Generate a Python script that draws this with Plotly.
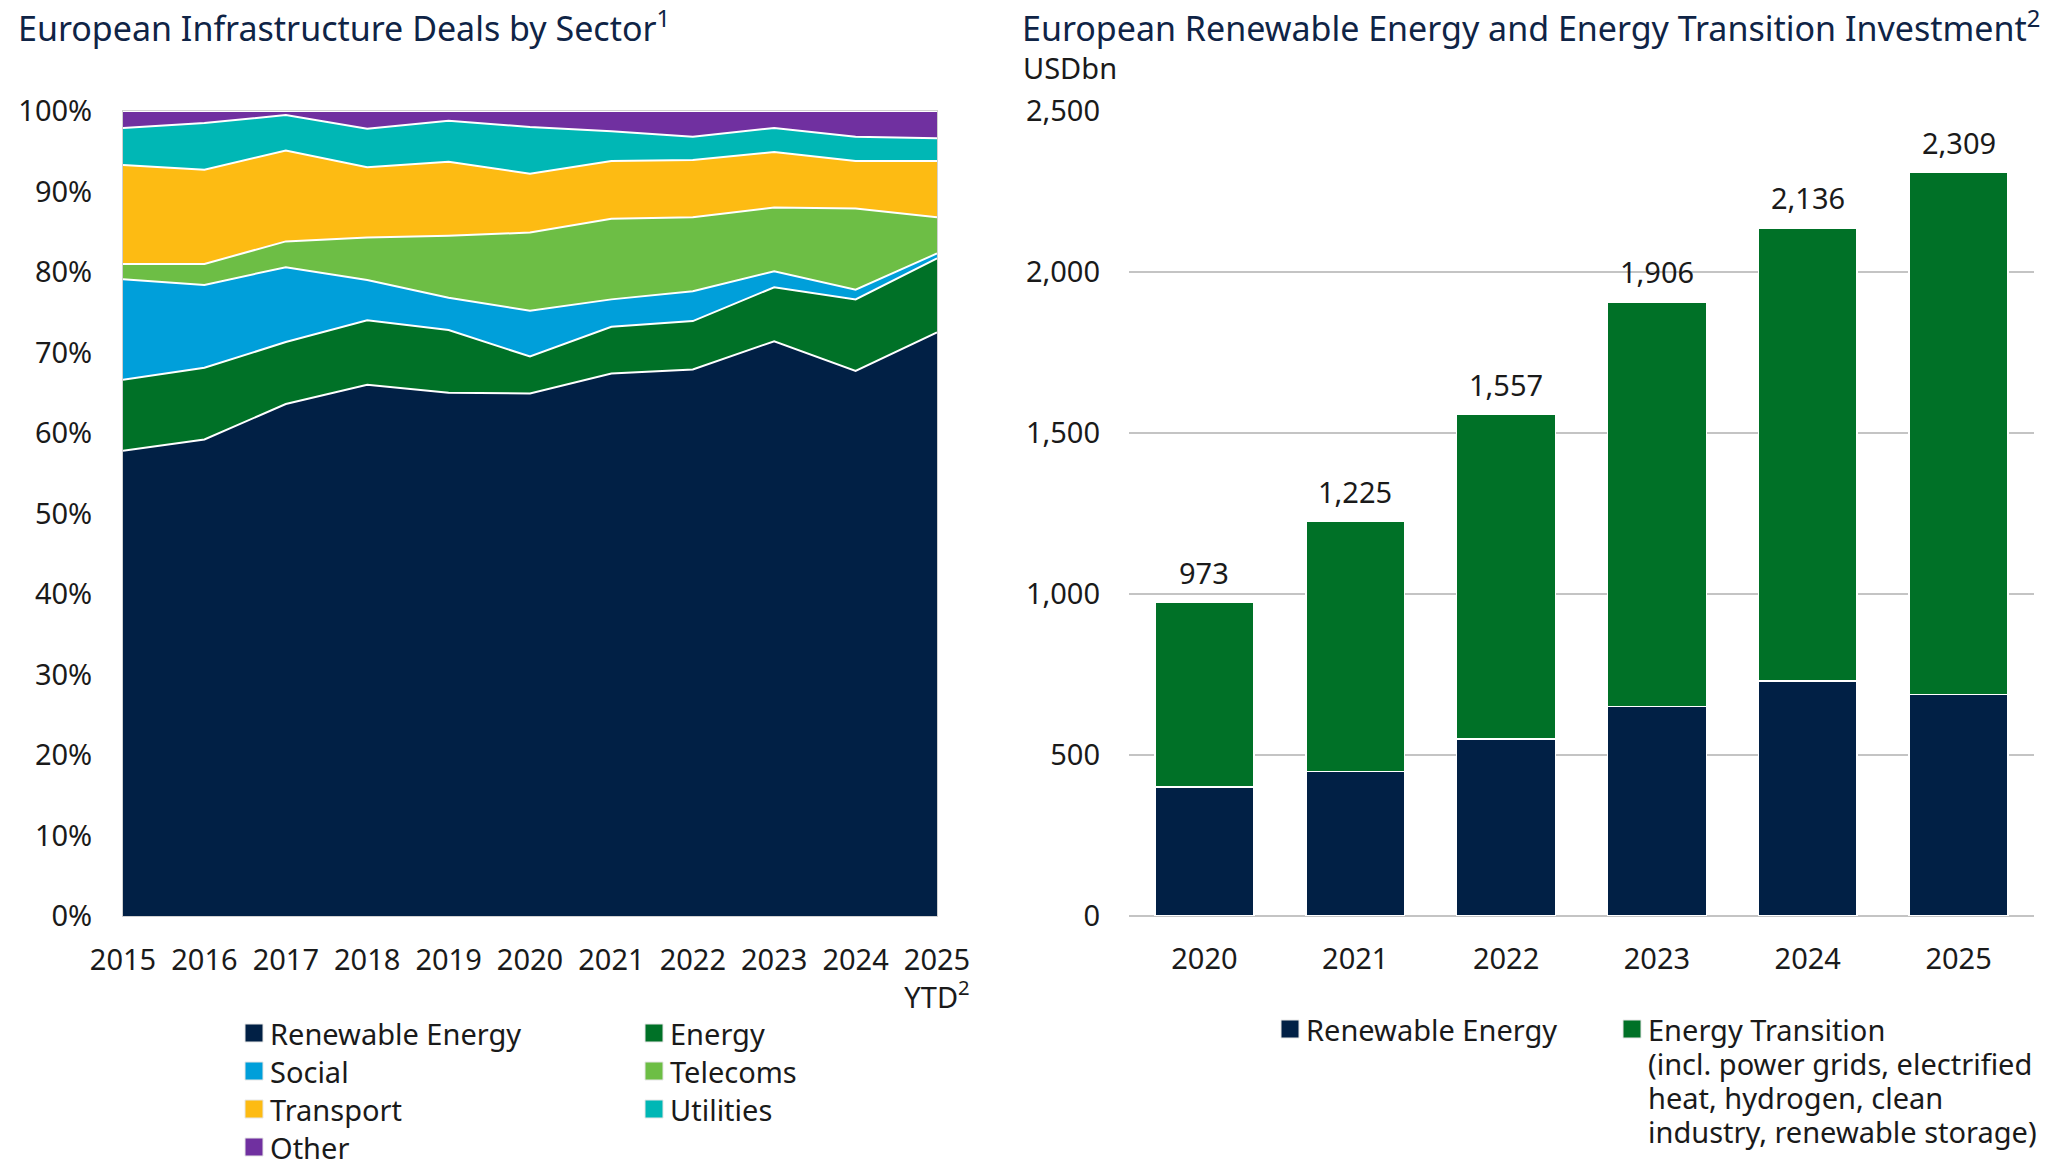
import plotly.graph_objects as go

W, H = 2048, 1170

# ---------------- Left chart data (share of deals, %) ----------------
years_left = [2015, 2016, 2017, 2018, 2019, 2020, 2021, 2022, 2023, 2024, 2025]
year_labels_left = ["2015", "2016", "2017", "2018", "2019", "2020", "2021",
                    "2022", "2023", "2024", "2025<br>YTD<sup>2</sup>"]
renewable_share = [57.8, 59.2, 63.6, 66.0, 65.0, 64.9, 67.4, 67.9, 71.4, 67.7, 72.5]
energy_share    = [8.8, 8.9, 7.7, 8.0, 7.8, 4.6, 5.8, 6.0, 6.7, 8.9, 9.2]
social_share    = [12.5, 10.3, 9.3, 5.0, 4.0, 5.7, 3.4, 3.7, 2.0, 1.2, 0.6]
telecoms_share  = [1.9, 2.6, 3.2, 5.3, 7.7, 9.7, 10.0, 9.2, 7.9, 10.1, 4.5]
transport_share = [12.3, 11.7, 11.3, 8.7, 9.2, 7.3, 7.2, 7.1, 6.9, 5.9, 7.0]
utilities_share = [4.6, 5.8, 4.4, 4.8, 5.1, 5.8, 3.7, 2.9, 3.0, 3.0, 2.8]
other_share     = [2.1, 1.5, 0.5, 2.2, 1.2, 2.0, 2.5, 3.2, 2.1, 3.2, 3.4]
left_ticks = [0, 10, 20, 30, 40, 50, 60, 70, 80, 90, 100]
left_tick_labels = [f"{v}%" for v in left_ticks]

# ---------------- Right chart data (USDbn) ----------------
years_right = ["2020", "2021", "2022", "2023", "2024", "2025"]
renewable_usd = [400, 448, 549, 650, 730, 688]
total_usd = [973, 1225, 1557, 1906, 2136, 2309]
transition_usd = [t - r for t, r in zip(total_usd, renewable_usd)]
right_ticks = [0, 500, 1000, 1500, 2000, 2500]

# ---------------- styles ----------------
NAVY = "#012045"
DGREEN = "#007127"
BLUE = "#009FDA"
LGREEN = "#6DBE45"
YELLOW = "#FDBB13"
TEAL = "#00B7B5"
PURPLE = "#7030A0"
TXT = "#1a1a1a"
TITLE = "#0f2446"
FONT = "Noto Sans, Open Sans, sans-serif"
FS = 29
FT = 34

def px(x):
    return x / W

def py(y):
    return 1 - y / H

left_series = [
    ("Renewable Energy", renewable_share, NAVY),
    ("Energy", energy_share, DGREEN),
    ("Social", social_share, BLUE),
    ("Telecoms", telecoms_share, LGREEN),
    ("Transport", transport_share, YELLOW),
    ("Utilities", utilities_share, TEAL),
    ("Other", other_share, PURPLE),
]

fig = go.Figure()
for name, vals, col in left_series:
    fig.add_trace(go.Scatter(
        x=years_left, y=vals, name=name, mode="lines",
        stackgroup="deals", groupnorm="percent",
        line=dict(color="white", width=2), fillcolor=col,
        showlegend=False, xaxis="x", yaxis="y",
    ))

fig.add_trace(go.Bar(
    x=years_right, y=renewable_usd, name="Renewable Energy",
    marker=dict(color=NAVY, line=dict(color="white", width=1.5)),
    showlegend=False, xaxis="x2", yaxis="y2",
))
fig.add_trace(go.Bar(
    x=years_right, y=transition_usd, name="Energy Transition",
    marker=dict(color=DGREEN, line=dict(color="white", width=1.5)),
    showlegend=False, xaxis="x2", yaxis="y2",
))

Y_DOM = [py(916), py(111)]

fig.update_layout(
    width=W, height=H, autosize=False,
    margin=dict(l=0, r=0, t=0, b=0, pad=0),
    paper_bgcolor="white", plot_bgcolor="white",
    font=dict(family=FONT, size=FS, color=TXT),
    barmode="stack", bargap=0.345,
    xaxis=dict(domain=[px(123), px(937)], range=[2015, 2025], anchor="y",
               tickvals=years_left, ticktext=year_labels_left, automargin=False,
               showgrid=False, zeroline=False, ticks="",
               showline=True, linecolor="#d0d0d0", linewidth=1, mirror=True,
               ticklabelstandoff=18, tickfont=dict(size=FS, color=TXT)),
    yaxis=dict(domain=Y_DOM, range=[0, 100], anchor="x", automargin=False,
               tickvals=left_ticks, ticktext=left_tick_labels,
               showgrid=False, zeroline=False, ticks="",
               showline=True, linecolor="#d0d0d0", linewidth=1, mirror=True,
               ticklabelstandoff=24, tickfont=dict(size=FS, color=TXT)),
    xaxis2=dict(domain=[px(1129), px(2034)], range=[-0.5, 5.5], anchor="y2",
                type="category", showgrid=False, zeroline=False, ticks="",
                automargin=False,
                ticklabelstandoff=23, tickfont=dict(size=FS, color=TXT)),
    yaxis2=dict(domain=Y_DOM, range=[0, 2500], tickvals=right_ticks, anchor="x2",
                tickformat=",", showgrid=True, gridcolor="#c4c4c4", gridwidth=1.5,
                zeroline=True, zerolinecolor="#c4c4c4", zerolinewidth=1.5,
                ticks="", ticklabelstandoff=28, automargin=False,
                tickfont=dict(size=FS, color=TXT)),
)

annotations = []
# bar totals
for i, tot in enumerate(total_usd):
    annotations.append(dict(x=i, y=tot, xref="x2", yref="y2", text=f"{tot:,}",
                            showarrow=False, yanchor="bottom", yshift=9,
                            font=dict(size=FS, color=TXT)))
# titles
annotations.append(dict(x=px(16), y=py(26), xref="paper", yref="paper",
                        text="European Infrastructure Deals by Sector<sup>1</sup>",
                        showarrow=False, xanchor="left", yanchor="middle",
                        font=dict(size=FT, color=TITLE)))
annotations.append(dict(x=px(1020), y=py(26), xref="paper", yref="paper",
                        text="European Renewable Energy and Energy Transition Investment<sup>2</sup>",
                        showarrow=False, xanchor="left", yanchor="middle",
                        font=dict(size=FT, color=TITLE)))
annotations.append(dict(x=px(1021), y=py(67), xref="paper", yref="paper",
                        text="USDbn", showarrow=False, xanchor="left", yanchor="middle",
                        font=dict(size=FS, color=TXT)))

shapes = []

def legend_item(cx, cy, color, lines, tx, step=34):
    shapes.append(dict(type="rect", xref="paper", yref="paper",
                       x0=px(cx - 9), x1=px(cx + 9), y0=py(cy + 9), y1=py(cy - 9),
                       fillcolor=color, line=dict(color="#e6e6e6", width=1)))
    for k, line in enumerate(lines):
        annotations.append(dict(x=px(tx), y=py(cy + k * step), xref="paper", yref="paper",
                                text=line, showarrow=False, xanchor="left",
                                yanchor="middle", align="left",
                                font=dict(size=FS, color=TXT)))

# left legend (two columns)
legend_item(254, 1033, NAVY, ["Renewable Energy"], 268)
legend_item(254, 1071, BLUE, ["Social"], 268)
legend_item(254, 1109, YELLOW, ["Transport"], 268)
legend_item(254, 1147, PURPLE, ["Other"], 268)
legend_item(654, 1033, DGREEN, ["Energy"], 668)
legend_item(654, 1071, LGREEN, ["Telecoms"], 668)
legend_item(654, 1109, TEAL, ["Utilities"], 668)
# right legend
legend_item(1290, 1029, NAVY, ["Renewable Energy"], 1304)
legend_item(1632, 1029, DGREEN,
            ["Energy Transition", "(incl. power grids, electrified",
             "heat, hydrogen, clean", "industry, renewable storage)"],
            1646)

fig.update_layout(annotations=annotations, shapes=shapes)

fig.write_html("out.html")
